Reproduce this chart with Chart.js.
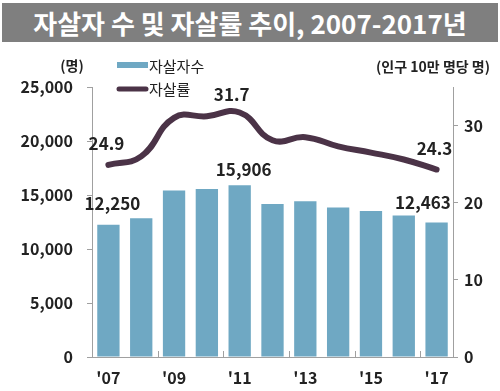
<!DOCTYPE html>
<html>
<head>
<meta charset="utf-8">
<script src="https://cdn.jsdelivr.net/npm/chart.js@4"></script>
<style>
  html, body { margin: 0; padding: 0; background: #fff; }
  #wrap { position: relative; width: 500px; height: 391px; }
  #title {
    position: absolute; left: 2px; top: 3px; width: 496px; height: 39px;
    background: #7f7f7f; color: #fff; text-align: center;
    font: bold 26px "Noto Sans CJK KR", sans-serif; line-height: 39px;
  }
  #chart { position: absolute; left: 0; top: 0; }
</style>
</head>
<body>
<div id="wrap">
  <canvas id="chart" width="500" height="391"></canvas>
  <div id="title">자살자 수 및 자살률 추이, 2007-2017년</div>
</div>
<script>
const years = ["'07", "'08", "'09", "'10", "'11", "'12", "'13", "'14", "'15", "'16", "'17"];
const suicides = [12250, 12858, 15413, 15566, 15906, 14160, 14427, 13836, 13513, 13092, 12463];
const rate = [24.9, 26.0, 31.0, 31.2, 31.7, 28.1, 28.5, 27.3, 26.5, 25.6, 24.3];
const barLabelIdx = [0, 4, 10];
const rateLabelIdx = [0, 4, 10];

const barColor = '#6fa8c3';
const lineColor = '#4b3347';
const textColor = '#222';
const axisColor = '#a0a0a0';
const fontFamily = '"Noto Sans CJK KR", sans-serif';

const extras = {
  id: 'extras',
  afterDatasetsDraw(chart) {
    const ctx = chart.ctx;
    const x = chart.scales.x;
    const area = chart.chartArea;
    ctx.save();

    // small inner ticks between every second year
    ctx.strokeStyle = axisColor;
    ctx.lineWidth = 1;
    const half = (x.getPixelForValue(1) - x.getPixelForValue(0)) / 2;
    for (let i = 2; i < years.length; i += 2) {
      const px = Math.round(x.getPixelForValue(i) - half) + 0.5;
      ctx.beginPath();
      ctx.moveTo(px, area.bottom);
      ctx.lineTo(px, area.bottom - 6);
      ctx.stroke();
    }

    ctx.fillStyle = textColor;
    ctx.font = 'bold 17px ' + fontFamily;
    ctx.textBaseline = 'middle';

    const bars = chart.getDatasetMeta(0).data;
    barLabelIdx.forEach(i => {
      const b = bars[i];
      const txt = suicides[i].toLocaleString('en-US');
      if (i === years.length - 1) {
        ctx.textAlign = 'right';
        ctx.fillText(txt, b.x + b.width / 2 + 3, b.y - 20);
      } else {
        ctx.textAlign = 'center';
        ctx.fillText(txt, b.x + 4, b.y - (i === 0 ? 21 : 16));
      }
    });

    const pts = chart.getDatasetMeta(1).data;
    rateLabelIdx.forEach(i => {
      const p = pts[i];
      const txt = rate[i].toFixed(1);
      ctx.textAlign = 'center';
      let dx = 0;
      if (i === 0) dx = -2;
      if (i === years.length - 1) dx = -2;
      if (i === 4) dx = -8;
      ctx.fillText(txt, p.x + dx, p.y - (i === 4 ? 18 : 21));
    });

    // unit labels
    ctx.font = 'bold 14px ' + fontFamily;
    ctx.textAlign = 'center';
    ctx.fillText('(명)', 72, 66);
    ctx.textAlign = 'right';
    ctx.fillText('(인구 10만 명당 명)', 490, 67);

    // legend
    ctx.fillStyle = barColor;
    ctx.fillRect(117, 62, 31, 6);
    ctx.strokeStyle = lineColor;
    ctx.lineWidth = 5;
    ctx.lineCap = 'round';
    ctx.beginPath();
    ctx.moveTo(119, 89);
    ctx.lineTo(146, 89);
    ctx.stroke();
    ctx.fillStyle = textColor;
    ctx.font = '15px ' + fontFamily;
    ctx.textAlign = 'left';
    ctx.fillText('자살자수', 149, 66);
    ctx.fillText('자살률', 149, 89);

    ctx.restore();
  }
};

new Chart(document.getElementById('chart'), {
  data: {
    labels: years,
    datasets: [
      {
        type: 'bar',
        label: '자살자수',
        data: suicides,
        backgroundColor: barColor,
        yAxisID: 'y',
        barPercentage: 0.68,
        categoryPercentage: 1.0,
        order: 2
      },
      {
        type: 'line',
        label: '자살률',
        data: rate,
        borderColor: lineColor,
        borderWidth: 6,
        borderCapStyle: 'round',
        borderJoinStyle: 'round',
        pointRadius: 0,
        tension: 0.45,
        yAxisID: 'y1',
        order: 1
      }
    ]
  },
  options: {
    responsive: false,
    animation: false,
    layout: { padding: { top: 87, left: 0, right: 0, bottom: 0 } },
    plugins: { legend: { display: false }, tooltip: { enabled: false } },
    scales: {
      x: {
        grid: { display: false },
        border: { color: axisColor },
        ticks: {
          color: textColor,
          font: { family: fontFamily, size: 16, weight: 'bold' },
          padding: 3,
          autoSkip: false,
          maxRotation: 0,
          callback: (v, i) => (i % 2 === 0 ? years[i] : '')
        },
        afterFit: s => { s.height = 34; }
      },
      y: {
        position: 'left',
        min: 0,
        max: 25000,
        ticks: {
          stepSize: 5000,
          color: textColor,
          font: { family: fontFamily, size: 16, weight: 'bold' },
          padding: 14,
          callback: v => v.toLocaleString('en-US')
        },
        grid: { drawOnChartArea: false, tickLength: 5, color: axisColor },
        border: { color: axisColor },
        afterFit: s => { s.width = 92; }
      },
      y1: {
        position: 'right',
        min: 0,
        max: 35,
        ticks: {
          stepSize: 10,
          color: textColor,
          font: { family: fontFamily, size: 16, weight: 'bold' },
          padding: 6
        },
        afterBuildTicks: s => { s.ticks = s.ticks.filter(t => t.value % 10 === 0); },
        grid: { drawOnChartArea: false, tickLength: 5, color: axisColor },
        border: { color: axisColor },
        afterFit: s => { s.width = 47; }
      }
    }
  },
  plugins: [extras]
});
</script>
</body>
</html>
